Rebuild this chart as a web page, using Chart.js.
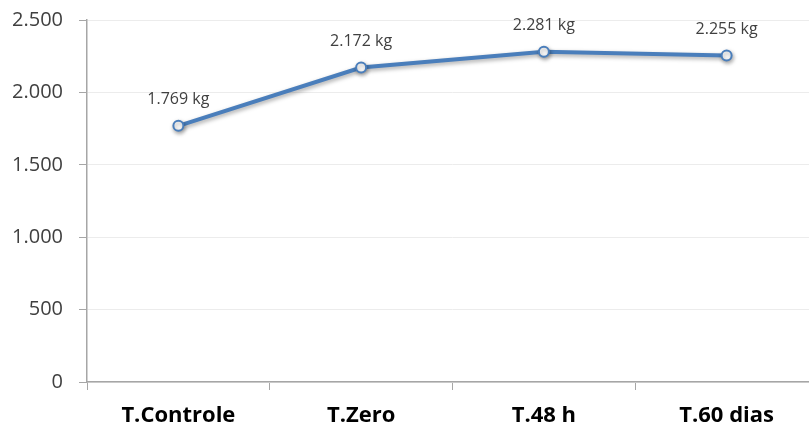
<!DOCTYPE html>
<html>
<head>
<meta charset="utf-8">
<script src="https://cdn.jsdelivr.net/npm/chart.js@4/dist/chart.umd.min.js"></script>
<style>
  html, body { margin: 0; padding: 0; background: #ffffff; overflow: hidden; }
  #wrap { width: 809px; height: 428px; overflow: hidden; }
  canvas { display: block; }
</style>
</head>
<body>
<div id="wrap"><canvas id="c" width="825" height="428"></canvas></div>
<script>
// Weight by treatment
const categories = ['T.Controle', 'T.Zero', 'T.48 h', 'T.60 dias'];
const weights = [1769, 2172, 2281, 2255];
const yTicks = [0, 500, 1000, 1500, 2000, 2500];

const fmt = v => v.toLocaleString('de-DE');
const FONT = '"Open Sans", Lato, sans-serif';

// Soft drop shadow under the line
const shadowPlugin = {
  id: 'lineShadow',
  beforeDatasetDraw(chart) {
    const ctx = chart.ctx;
    ctx.save();
    ctx.shadowColor = 'rgba(0,0,0,0.35)';
    ctx.shadowBlur = 4;
    ctx.shadowOffsetX = 1;
    ctx.shadowOffsetY = 2;
  },
  afterDatasetDraw(chart) {
    chart.ctx.restore();
  }
};

// Value labels above each point
const valueLabels = {
  id: 'valueLabels',
  afterDatasetsDraw(chart) {
    const ctx = chart.ctx;
    const meta = chart.getDatasetMeta(0);
    ctx.save();
    ctx.font = '16px ' + FONT;
    ctx.fillStyle = '#404040';
    ctx.textAlign = 'center';
    ctx.textBaseline = 'middle';
    meta.data.forEach((pt, i) => {
      ctx.fillText(fmt(weights[i]) + ' kg', pt.x, pt.y - 26);
    });
    ctx.restore();
  }
};

new Chart(document.getElementById('c'), {
  type: 'line',
  data: {
    labels: categories,
    datasets: [{
      data: weights,
      borderColor: '#4a7ebb',
      borderWidth: 4,
      pointRadius: 5,
      pointBorderWidth: 2,
      pointBackgroundColor: '#ffffff',
      pointBorderColor: '#4a7ebb',
      tension: 0,
      fill: false
    }]
  },
  options: {
    responsive: false,
    animation: false,
    layout: { padding: { top: 20, right: 0, left: 0, bottom: 0 } },
    plugins: { legend: { display: false }, tooltip: { enabled: false } },
    scales: {
      x: {
        offset: true,
        grid: {
          offset: true,
          drawOnChartArea: false,
          drawTicks: true,
          tickLength: 8,
          tickColor: '#a6a6a6',
          color: '#a6a6a6'
        },
        border: { color: '#a6a6a6', width: 1.5 },
        ticks: {
          color: '#000000',
          font: { family: FONT, size: 22, weight: 'bold' },
          padding: 13
        },
        afterFit(scale) { scale.height = 46; }
      },
      y: {
        min: 0,
        max: 2500,
        afterBuildTicks(scale) { scale.ticks = yTicks.map(v => ({ value: v })); },
        grid: {
          color: '#ececec',
          lineWidth: 1,
          tickColor: '#a6a6a6',
          tickLength: 8
        },
        border: { color: '#a6a6a6', width: 1.5 },
        ticks: {
          color: '#404040',
          font: { family: FONT, size: 20 },
          padding: 16,
          callback: v => fmt(v)
        },
        afterFit(scale) {
          scale.width = 87;
          scale.paddingTop = 0;
          scale.paddingBottom = 0;
        }
      }
    }
  },
  plugins: [shadowPlugin, valueLabels]
});
</script>
</body>
</html>
